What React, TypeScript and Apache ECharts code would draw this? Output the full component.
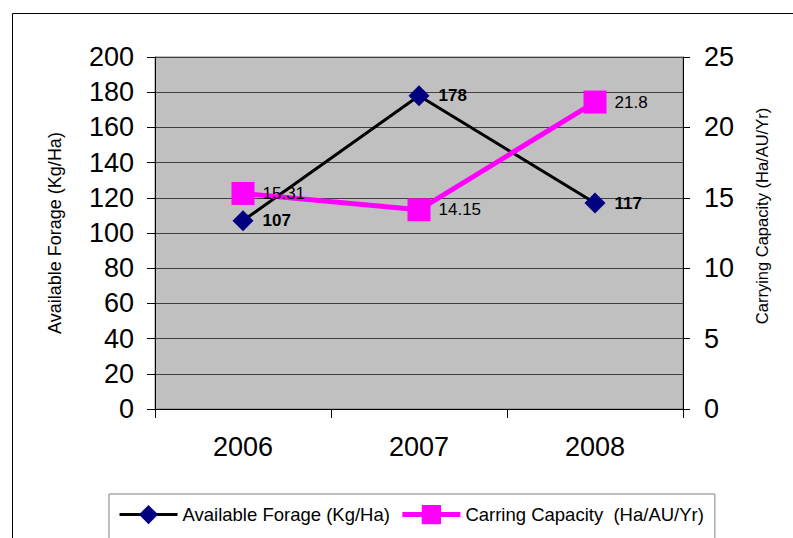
import React, { useEffect, useRef } from "react";
import * as echarts from "echarts";

const years = ["2006", "2007", "2008"];
const forage = [107, 178, 117];
const capacity = [15.31, 14.15, 21.8];
const forageName = "Available Forage (Kg/Ha)";
const capacityName = "Carring Capacity  (Ha/AU/Yr)";
const leftTitle = "Available Forage (Kg/Ha)";
const rightTitle = "Carrying Capacity (Ha/AU/Yr)";

const SANS = "'Liberation Sans', Arial, sans-serif";

export default function App() {
  const ref = useRef<HTMLDivElement>(null);
  useEffect(() => {
    if (!ref.current) return;
    const chart = echarts.init(ref.current, null, { renderer: "svg" });
    chart.setOption({
      animation: false,
      backgroundColor: "#ffffff",
      textStyle: { fontFamily: SANS },
      grid: {
        left: 155,
        top: 57,
        right: 110,
        bottom: 129,
        show: true,
        backgroundColor: "#C0C0C0",
        borderColor: "#808080",
        borderWidth: 1,
      },
      graphic: [
        {
          type: "rect",
          shape: { x: 12.5, y: 13.5, width: 900, height: 700 },
          style: { fill: "none", stroke: "#000000", lineWidth: 1 },
          silent: true,
          z: -1,
        },
        {
          type: "text",
          x: 762,
          y: 216,
          rotation: Math.PI / 2,
          style: {
            text: rightTitle,
            fontSize: 16.5,
            fontFamily: SANS,
            fill: "#000",
            align: "center",
            verticalAlign: "middle",
          },
        },
      ],
      legend: {
        left: 109,
        top: 494,
        orient: "horizontal",
        padding: [11, 11, 40, 9],
        itemGap: 10,
        itemWidth: 58,
        itemHeight: 24,
        borderColor: "#808080",
        borderWidth: 1,
        backgroundColor: "#ffffff",
        textStyle: { fontSize: 18.5, fontFamily: SANS, color: "#000" },
        data: [
          { name: forageName, lineStyle: { width: 3, color: "#000000" } },
          { name: capacityName, lineStyle: { width: 5, color: "#FF00FF" } },
        ],
      },
      xAxis: {
        type: "category",
        data: years,
        boundaryGap: true,
        axisLine: { show: true, lineStyle: { color: "#000", width: 1 } },
        axisTick: { show: true, length: 9, lineStyle: { color: "#000" } },
        axisLabel: { fontSize: 27, color: "#000", margin: 24, fontFamily: SANS },
        splitLine: { show: false },
      },
      yAxis: [
        {
          type: "value",
          min: 0,
          max: 200,
          interval: 20,
          position: "left",
          name: leftTitle,
          nameLocation: "middle",
          nameRotate: 90,
          nameGap: 91,
          nameTextStyle: { fontSize: 18, color: "#000", fontFamily: SANS },
          axisLine: { show: true, lineStyle: { color: "#000", width: 1 } },
          axisTick: { show: true, length: 8, lineStyle: { color: "#000" } },
          axisLabel: { fontSize: 27, color: "#000", margin: 21, fontFamily: SANS },
          splitLine: { show: true, lineStyle: { color: "#404040", width: 1 } },
        },
        {
          type: "value",
          min: 0,
          max: 25,
          interval: 5,
          position: "right",
          axisLine: { show: true, lineStyle: { color: "#000", width: 1 } },
          axisTick: { show: true, length: 7, lineStyle: { color: "#000" } },
          axisLabel: { fontSize: 27, color: "#000", margin: 21, fontFamily: SANS },
          splitLine: { show: false },
        },
      ],
      series: [
        {
          name: forageName,
          type: "line",
          data: forage,
          yAxisIndex: 0,
          symbol: "diamond",
          symbolSize: 21,
          lineStyle: { color: "#000000", width: 3 },
          itemStyle: { color: "#000080" },
          label: {
            show: true,
            position: "right",
            distance: 9,
            fontSize: 17,
            fontWeight: "bold",
            fontFamily: SANS,
            color: "#000",
          },
          z: 2,
        },
        {
          name: capacityName,
          type: "line",
          data: capacity,
          yAxisIndex: 1,
          symbol: "rect",
          symbolSize: 23,
          lineStyle: { color: "#FF00FF", width: 5 },
          itemStyle: { color: "#FF00FF" },
          label: {
            show: true,
            position: "right",
            distance: 8,
            fontSize: 17,
            fontFamily: SANS,
            color: "#000",
          },
          z: 3,
        },
      ],
    });
    return () => chart.dispose();
  }, []);
  return (
    <div
      ref={ref}
      style={{ position: "fixed", left: 0, top: 0, width: 793, height: 538 }}
    />
  );
}
